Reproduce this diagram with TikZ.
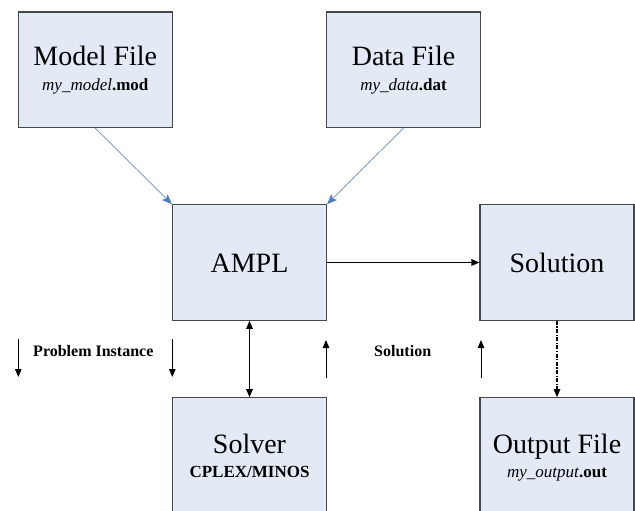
\documentclass[tikz,border=0pt]{standalone}
\usepackage{fontspec}
\setmainfont{LiberationSerif}[Extension=.ttf, UprightFont=*-Regular, BoldFont=*-Bold, ItalicFont=*-Italic, BoldItalicFont=*-BoldItalic]
\usetikzlibrary{arrows.meta}
\definecolor{boxfill}{RGB}{228,234,245}
\definecolor{boxline}{RGB}{70,70,72}
\definecolor{bluearr}{RGB}{110,140,185}
\definecolor{bluetip}{RGB}{79,123,192}
\tikzset{
  box/.style={draw=boxline, fill=boxfill, line width=1.1pt, minimum width=154pt, minimum height=115.5pt, inner sep=0pt},
  title/.style={anchor=base, inner sep=0pt, font=\fontsize{28}{30}\selectfont},
  subtitle/.style={anchor=base, inner sep=0pt, font=\fontsize{17}{19}\selectfont},
  lbl/.style={anchor=base, inner sep=0pt, font=\fontsize{16}{18}\selectfont\bfseries},
  bluelink/.style={draw=bluearr, line width=0.7pt, -{Stealth[length=10pt,width=8pt,inset=2pt,fill=bluetip,color=bluetip]}},
  blk/.style={draw=black, line width=1pt, -{Triangle[length=8pt,width=6.5pt]}},
  blkboth/.style={draw=black, line width=1pt, {Triangle[length=8pt,width=6.5pt]}-{Triangle[length=8pt,width=6.5pt]}},
  dashdot/.style={draw=black, line width=1.1pt, dash pattern=on 4pt off 1.5pt on 1.2pt off 1.5pt, -{Triangle[length=8pt,width=6.5pt]}}
}
\begin{document}
\begin{tikzpicture}[x=1pt,y=-1pt]
\clip (0,0) rectangle (635,511);
\fill[white] (0,0) rectangle (635,511);

% boxes
\node[box] (mf) at (95.3,69.8) {};
\node[box] (df) at (403.5,69.8) {};
\node[box] (ampl) at (249.5,262.5) {};
\node[box] (sol) at (557,262.5) {};
\node[box] (solver) at (249.5,455.5) {};
\node[box] (out) at (557,455.5) {};

% box texts
\node[title] (mft) at ([yshift=-54.4pt]mf.north) {Model File};
\node[subtitle] (mfs) at ([yshift=-79.4pt]mf.north) {\textit{my\_model}\textbf{.mod}};
\node[title] (dft) at ([yshift=-54.4pt]df.north) {Data File};
\node[subtitle] (dfs) at ([yshift=-79.4pt]df.north) {\textit{my\_data}\textbf{.dat}};
\node[title] (amplt) at ([yshift=-9.5pt]ampl.center) {AMPL};
\node[title] (solt) at ([yshift=-9.5pt]sol.center) {Solution};
\node[title] (solvert) at ([yshift=-55.8pt]solver.north) {Solver};
\node[subtitle] (solvers) at ([yshift=-79.8pt]solver.north) {\textbf{CPLEX/MINOS}};
\node[title] (outt) at ([yshift=-55.8pt]out.north) {Output File};
\node[subtitle] (outs) at ([yshift=-79.8pt]out.north) {\textit{my\_output}\textbf{.out}};

% connectors
\draw[bluelink] (mf.south) -- (ampl.north west);
\draw[bluelink] (df.south) -- (ampl.north east);
\draw[blk, line width=1.3pt] (ampl.east) -- (sol.west);
\draw[blkboth] (ampl.south) -- (solver.north);
\draw[dashdot] (sol.south) -- (out.north);

% side arrows and labels
\coordinate (d1a) at (18.3,339);
\coordinate (d1b) at (18.3,377);
\coordinate (d2a) at (172.3,339);
\coordinate (d2b) at (172.3,377);
\coordinate (u1a) at (326,378);
\coordinate (u1b) at (326,340);
\coordinate (u2a) at (481,378);
\coordinate (u2b) at (481,340);
\draw[blk] (d1a) -- (d1b);
\draw[blk] (d2a) -- (d2b);
\draw[blk] (u1a) -- (u1b);
\draw[blk] (u2a) -- (u2b);
\node[lbl] (pi) at (93.3,356) {Problem Instance};
\node[lbl] (sl) at (402.7,356) {Solution};
\end{tikzpicture}
\end{document}
